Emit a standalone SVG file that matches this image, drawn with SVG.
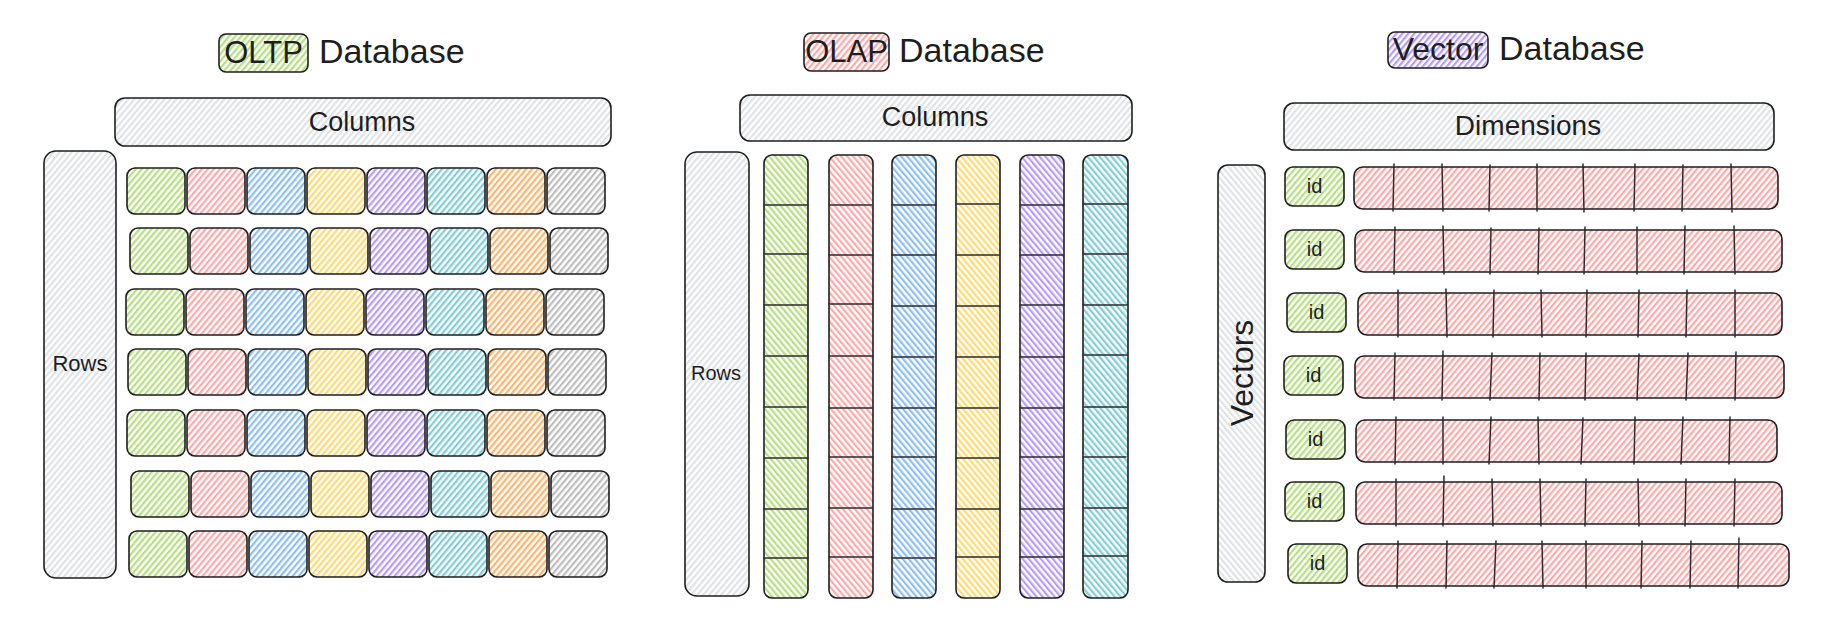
<svg xmlns="http://www.w3.org/2000/svg" width="1848" height="623" viewBox="0 0 1848 623">
<style>
.s{stroke:#1e1e1e;stroke-width:1.6;stroke-linejoin:round}
.ln{stroke:#2b2b2b;stroke-width:1.5;stroke-linecap:round;fill:none}
.t{font-family:"Liberation Sans",Arial,sans-serif;fill:#1e1e1e}
.ti{font-size:34px}
.tb{font-size:31px}
.lb{font-size:27px;text-anchor:middle}
.fg{fill:url(#hg)}.fr{fill:url(#hr)}.fb{fill:url(#hb)}.fy{fill:url(#hy)}
.fp{fill:url(#hp)}.fc{fill:url(#hc)}.fo{fill:url(#ho)}.fx{fill:url(#hx)}.fl{fill:url(#hl)}
.bg{fill:url(#bg)}.br{fill:url(#br)}.bb{fill:url(#bb)}.by{fill:url(#by)}
.bp{fill:url(#bp)}.bc{fill:url(#bc)}.bl{fill:url(#bl)}
</style>
<defs>
<pattern id="hg" width="4.6" height="4.6" patternUnits="userSpaceOnUse" patternTransform="rotate(40)"><rect width="4.6" height="4.6" fill="#fff"/><rect width="2.2" height="4.6" fill="#b5e07f"/></pattern>
<pattern id="hr" width="4.6" height="4.6" patternUnits="userSpaceOnUse" patternTransform="rotate(40)"><rect width="4.6" height="4.6" fill="#fff"/><rect width="2.2" height="4.6" fill="#ffa8a8"/></pattern>
<pattern id="hb" width="4.6" height="4.6" patternUnits="userSpaceOnUse" patternTransform="rotate(40)"><rect width="4.6" height="4.6" fill="#fff"/><rect width="2.2" height="4.6" fill="#8cbff2"/></pattern>
<pattern id="hy" width="4.6" height="4.6" patternUnits="userSpaceOnUse" patternTransform="rotate(40)"><rect width="4.6" height="4.6" fill="#fff"/><rect width="2.2" height="4.6" fill="#ffda70"/></pattern>
<pattern id="hp" width="4.6" height="4.6" patternUnits="userSpaceOnUse" patternTransform="rotate(40)"><rect width="4.6" height="4.6" fill="#fff"/><rect width="2.2" height="4.6" fill="#b69cf7"/></pattern>
<pattern id="hc" width="4.6" height="4.6" patternUnits="userSpaceOnUse" patternTransform="rotate(40)"><rect width="4.6" height="4.6" fill="#fff"/><rect width="2.2" height="4.6" fill="#7fcdd8"/></pattern>
<pattern id="ho" width="4.6" height="4.6" patternUnits="userSpaceOnUse" patternTransform="rotate(40)"><rect width="4.6" height="4.6" fill="#fff"/><rect width="2.2" height="4.6" fill="#ffb36b"/></pattern>
<pattern id="hx" width="4.6" height="4.6" patternUnits="userSpaceOnUse" patternTransform="rotate(40)"><rect width="4.6" height="4.6" fill="#fff"/><rect width="2.2" height="4.6" fill="#bdbdbd"/></pattern>
<pattern id="hl" width="4.6" height="4.6" patternUnits="userSpaceOnUse" patternTransform="rotate(40)"><rect width="4.6" height="4.6" fill="#fff"/><rect width="2.2" height="4.6" fill="#dfe2e6"/></pattern>
<pattern id="bg" width="4.6" height="4.6" patternUnits="userSpaceOnUse" patternTransform="rotate(-40)"><rect width="4.6" height="4.6" fill="#fff"/><rect width="2.2" height="4.6" fill="#b5e07f"/></pattern>
<pattern id="br" width="4.6" height="4.6" patternUnits="userSpaceOnUse" patternTransform="rotate(-40)"><rect width="4.6" height="4.6" fill="#fff"/><rect width="2.2" height="4.6" fill="#ffa8a8"/></pattern>
<pattern id="bb" width="4.6" height="4.6" patternUnits="userSpaceOnUse" patternTransform="rotate(-40)"><rect width="4.6" height="4.6" fill="#fff"/><rect width="2.2" height="4.6" fill="#8cbff2"/></pattern>
<pattern id="by" width="4.6" height="4.6" patternUnits="userSpaceOnUse" patternTransform="rotate(-40)"><rect width="4.6" height="4.6" fill="#fff"/><rect width="2.2" height="4.6" fill="#ffda70"/></pattern>
<pattern id="bp" width="4.6" height="4.6" patternUnits="userSpaceOnUse" patternTransform="rotate(-40)"><rect width="4.6" height="4.6" fill="#fff"/><rect width="2.2" height="4.6" fill="#b69cf7"/></pattern>
<pattern id="bc" width="4.6" height="4.6" patternUnits="userSpaceOnUse" patternTransform="rotate(-40)"><rect width="4.6" height="4.6" fill="#fff"/><rect width="2.2" height="4.6" fill="#7fcdd8"/></pattern>
<pattern id="bl" width="4.6" height="4.6" patternUnits="userSpaceOnUse" patternTransform="rotate(-40)"><rect width="4.6" height="4.6" fill="#fff"/><rect width="2.2" height="4.6" fill="#dfe2e6"/></pattern>
</defs>
<rect width="1848" height="623" fill="#fff"/>

<!-- ===== OLTP ===== -->
<g id="oltp-title">
<rect class="s fg" x="219" y="34" width="89" height="38" rx="7"/>
<text class="t tb" x="263.5" y="63" text-anchor="middle">OLTP</text>
<text class="t ti" x="319" y="63">Database</text>
</g>
<g id="oltp-columns"><rect class="s fl" x="115" y="98" width="496" height="48" rx="10"/><text class="t lb" x="362" y="131">Columns</text></g>
<g id="oltp-rows"><rect class="s fl" x="44" y="151" width="72" height="427" rx="12"/><text class="t" x="80" y="371" font-size="22" text-anchor="middle">Rows</text></g>

<g id="oltp-row-1">
<g id="oltp-r1-c1"><rect class="s fg" x="127" y="168" width="58" height="46" rx="8"/></g>
<g id="oltp-r1-c2"><rect class="s fr" x="187" y="168" width="58" height="46" rx="8"/></g>
<g id="oltp-r1-c3"><rect class="s fb" x="247" y="168" width="58" height="46" rx="8"/></g>
<g id="oltp-r1-c4"><rect class="s fy" x="307" y="168" width="58" height="46" rx="8"/></g>
<g id="oltp-r1-c5"><rect class="s fp" x="367" y="168" width="58" height="46" rx="8"/></g>
<g id="oltp-r1-c6"><rect class="s fc" x="427" y="168" width="58" height="46" rx="8"/></g>
<g id="oltp-r1-c7"><rect class="s fo" x="487" y="168" width="58" height="46" rx="8"/></g>
<g id="oltp-r1-c8"><rect class="s fx" x="547" y="168" width="58" height="46" rx="8"/></g>
</g>
<g id="oltp-row-2">
<g id="oltp-r2-c1"><rect class="s fg" x="130" y="228" width="58" height="46" rx="8"/></g>
<g id="oltp-r2-c2"><rect class="s fr" x="190" y="228" width="58" height="46" rx="8"/></g>
<g id="oltp-r2-c3"><rect class="s fb" x="250" y="228" width="58" height="46" rx="8"/></g>
<g id="oltp-r2-c4"><rect class="s fy" x="310" y="228" width="58" height="46" rx="8"/></g>
<g id="oltp-r2-c5"><rect class="s fp" x="370" y="228" width="58" height="46" rx="8"/></g>
<g id="oltp-r2-c6"><rect class="s fc" x="430" y="228" width="58" height="46" rx="8"/></g>
<g id="oltp-r2-c7"><rect class="s fo" x="490" y="228" width="58" height="46" rx="8"/></g>
<g id="oltp-r2-c8"><rect class="s fx" x="550" y="228" width="58" height="46" rx="8"/></g>
</g>
<g id="oltp-row-3">
<g id="oltp-r3-c1"><rect class="s fg" x="126" y="289" width="58" height="46" rx="8"/></g>
<g id="oltp-r3-c2"><rect class="s fr" x="186" y="289" width="58" height="46" rx="8"/></g>
<g id="oltp-r3-c3"><rect class="s fb" x="246" y="289" width="58" height="46" rx="8"/></g>
<g id="oltp-r3-c4"><rect class="s fy" x="306" y="289" width="58" height="46" rx="8"/></g>
<g id="oltp-r3-c5"><rect class="s fp" x="366" y="289" width="58" height="46" rx="8"/></g>
<g id="oltp-r3-c6"><rect class="s fc" x="426" y="289" width="58" height="46" rx="8"/></g>
<g id="oltp-r3-c7"><rect class="s fo" x="486" y="289" width="58" height="46" rx="8"/></g>
<g id="oltp-r3-c8"><rect class="s fx" x="546" y="289" width="58" height="46" rx="8"/></g>
</g>
<g id="oltp-row-4">
<g id="oltp-r4-c1"><rect class="s fg" x="128" y="349" width="58" height="46" rx="8"/></g>
<g id="oltp-r4-c2"><rect class="s fr" x="188" y="349" width="58" height="46" rx="8"/></g>
<g id="oltp-r4-c3"><rect class="s fb" x="248" y="349" width="58" height="46" rx="8"/></g>
<g id="oltp-r4-c4"><rect class="s fy" x="308" y="349" width="58" height="46" rx="8"/></g>
<g id="oltp-r4-c5"><rect class="s fp" x="368" y="349" width="58" height="46" rx="8"/></g>
<g id="oltp-r4-c6"><rect class="s fc" x="428" y="349" width="58" height="46" rx="8"/></g>
<g id="oltp-r4-c7"><rect class="s fo" x="488" y="349" width="58" height="46" rx="8"/></g>
<g id="oltp-r4-c8"><rect class="s fx" x="548" y="349" width="58" height="46" rx="8"/></g>
</g>
<g id="oltp-row-5">
<g id="oltp-r5-c1"><rect class="s fg" x="127" y="410" width="58" height="46" rx="8"/></g>
<g id="oltp-r5-c2"><rect class="s fr" x="187" y="410" width="58" height="46" rx="8"/></g>
<g id="oltp-r5-c3"><rect class="s fb" x="247" y="410" width="58" height="46" rx="8"/></g>
<g id="oltp-r5-c4"><rect class="s fy" x="307" y="410" width="58" height="46" rx="8"/></g>
<g id="oltp-r5-c5"><rect class="s fp" x="367" y="410" width="58" height="46" rx="8"/></g>
<g id="oltp-r5-c6"><rect class="s fc" x="427" y="410" width="58" height="46" rx="8"/></g>
<g id="oltp-r5-c7"><rect class="s fo" x="487" y="410" width="58" height="46" rx="8"/></g>
<g id="oltp-r5-c8"><rect class="s fx" x="547" y="410" width="58" height="46" rx="8"/></g>
</g>
<g id="oltp-row-6">
<g id="oltp-r6-c1"><rect class="s fg" x="131" y="471" width="58" height="46" rx="8"/></g>
<g id="oltp-r6-c2"><rect class="s fr" x="191" y="471" width="58" height="46" rx="8"/></g>
<g id="oltp-r6-c3"><rect class="s fb" x="251" y="471" width="58" height="46" rx="8"/></g>
<g id="oltp-r6-c4"><rect class="s fy" x="311" y="471" width="58" height="46" rx="8"/></g>
<g id="oltp-r6-c5"><rect class="s fp" x="371" y="471" width="58" height="46" rx="8"/></g>
<g id="oltp-r6-c6"><rect class="s fc" x="431" y="471" width="58" height="46" rx="8"/></g>
<g id="oltp-r6-c7"><rect class="s fo" x="491" y="471" width="58" height="46" rx="8"/></g>
<g id="oltp-r6-c8"><rect class="s fx" x="551" y="471" width="58" height="46" rx="8"/></g>
</g>
<g id="oltp-row-7">
<g id="oltp-r7-c1"><rect class="s fg" x="129" y="531" width="58" height="46" rx="8"/></g>
<g id="oltp-r7-c2"><rect class="s fr" x="189" y="531" width="58" height="46" rx="8"/></g>
<g id="oltp-r7-c3"><rect class="s fb" x="249" y="531" width="58" height="46" rx="8"/></g>
<g id="oltp-r7-c4"><rect class="s fy" x="309" y="531" width="58" height="46" rx="8"/></g>
<g id="oltp-r7-c5"><rect class="s fp" x="369" y="531" width="58" height="46" rx="8"/></g>
<g id="oltp-r7-c6"><rect class="s fc" x="429" y="531" width="58" height="46" rx="8"/></g>
<g id="oltp-r7-c7"><rect class="s fo" x="489" y="531" width="58" height="46" rx="8"/></g>
<g id="oltp-r7-c8"><rect class="s fx" x="549" y="531" width="58" height="46" rx="8"/></g>
</g>

<!-- ===== OLAP ===== -->
<g id="olap-title">
<rect class="s fr" x="804" y="33" width="85" height="38" rx="7"/>
<text class="t tb" x="846.5" y="62" text-anchor="middle">OLAP</text>
<text class="t ti" x="899" y="62">Database</text>
</g>
<g id="olap-columns"><rect class="s fl" x="740" y="95" width="392" height="46" rx="10"/><text class="t lb" x="935" y="126">Columns</text></g>
<g id="olap-rows"><rect class="s fl" x="685" y="152" width="64" height="444" rx="12"/><text class="t" x="716" y="380" font-size="20" text-anchor="middle">Rows</text></g>
<g id="olap-col-1"><rect class="s bg" x="764" y="155" width="44" height="443" rx="8"/><path class="ln" d="M764 205h44M764 254h44M764 305h43M764 356h44M764 407h42M764 458h44M764 509h43M764 558h44"/></g>
<g id="olap-col-2"><rect class="s br" x="829" y="155" width="44" height="443" rx="8"/><path class="ln" d="M829 205h43M829 255h44M829 304h44M829 356h44M829 408h43M829 457h44M829 508h43M829 557h44"/></g>
<g id="olap-col-3"><rect class="s bb" x="892" y="155" width="44" height="443" rx="8"/><path class="ln" d="M892 205h44M892 255h44M892 306h44M892 357h42M892 408h43M892 457h44M892 509h42M892 558h43"/></g>
<g id="olap-col-4"><rect class="s by" x="956" y="155" width="44" height="443" rx="8"/><path class="ln" d="M956 204h43M956 255h43M956 306h44M956 357h44M956 408h42M956 458h43M956 509h44M956 557h44"/></g>
<g id="olap-col-5"><rect class="s bp" x="1020" y="155" width="44" height="443" rx="8"/><path class="ln" d="M1020 205h44M1020 255h43M1020 305h44M1020 357h44M1020 408h44M1020 457h43M1020 509h44M1020 557h43"/></g>
<g id="olap-col-6"><rect class="s bc" x="1083" y="155" width="45" height="443" rx="8"/><path class="ln" d="M1083 204h44M1083 254h44M1083 305h44M1083 355h44M1083 407h44M1083 457h43M1083 508h44M1083 556h44"/></g>

<!-- ===== Vector ===== -->
<g id="vector-title">
<rect class="s fp" x="1388" y="32" width="100" height="36" rx="7"/>
<text class="t" x="1438" y="60" font-size="32" text-anchor="middle">Vector</text>
<text class="t ti" x="1499" y="60">Database</text>
</g>
<g id="vector-dimensions"><rect class="s fl" x="1284" y="103" width="490" height="47" rx="10"/><text class="t" x="1528" y="135" font-size="28" text-anchor="middle">Dimensions</text></g>
<g id="vector-vectors"><rect class="s bl" x="1218" y="165" width="47" height="417" rx="10"/><text class="t" transform="translate(1242 373) rotate(-90)" y="11" font-size="32" text-anchor="middle">Vectors</text></g>

<g id="vector-row-1">
<g id="vec-id-1"><rect class="s fg" x="1285" y="167" width="59" height="39" rx="8"/><text class="t" x="1314.5" y="193" font-size="20" text-anchor="middle">id</text></g>
<g id="vec-bar-1"><rect class="s fr" x="1354" y="167" width="424" height="42" rx="9"/><path class="ln" d="M1394 164l-1 47M1442 164l1 47M1490 165l-1 46M1537 164l0 47M1583 164l1 48M1635 164l-1 47M1683 165l-1 46M1731 164l1 48"/></g>
</g>
<g id="vector-row-2">
<g id="vec-id-2"><rect class="s fg" x="1285" y="230" width="59" height="39" rx="8"/><text class="t" x="1314.5" y="256" font-size="20" text-anchor="middle">id</text></g>
<g id="vec-bar-2"><rect class="s fr" x="1355" y="230" width="427" height="42" rx="9"/><path class="ln" d="M1395 227l-1 47M1443 226l1 48M1491 228l-1 46M1539 228l-1 46M1585 227l-1 47M1637 227l0 47M1685 226l-1 48M1734 226l1 48"/></g>
</g>
<g id="vector-row-3">
<g id="vec-id-3"><rect class="s fg" x="1287" y="293" width="59" height="39" rx="8"/><text class="t" x="1316.5" y="319" font-size="20" text-anchor="middle">id</text></g>
<g id="vec-bar-3"><rect class="s fr" x="1358" y="293" width="424" height="42" rx="9"/><path class="ln" d="M1398 290l0 47M1446 289l1 48M1494 290l-1 47M1541 290l1 47M1587 290l-1 47M1639 290l-1 47M1687 290l-1 47M1735 290l0 47"/></g>
</g>
<g id="vector-row-4">
<g id="vec-id-4"><rect class="s fg" x="1284" y="356" width="59" height="39" rx="8"/><text class="t" x="1313.5" y="382" font-size="20" text-anchor="middle">id</text></g>
<g id="vec-bar-4"><rect class="s fr" x="1355" y="356" width="429" height="42" rx="9"/><path class="ln" d="M1395 353l-1 47M1443 351l-1 49M1492 353l-2 47M1540 353l-1 47M1586 353l-1 47M1639 354l-2 46M1688 353l-2 47M1736 352l-1 48"/></g>
</g>
<g id="vector-row-5">
<g id="vec-id-5"><rect class="s fg" x="1286" y="420" width="59" height="39" rx="8"/><text class="t" x="1315.5" y="446" font-size="20" text-anchor="middle">id</text></g>
<g id="vec-bar-5"><rect class="s fr" x="1356" y="420" width="421" height="42" rx="9"/><path class="ln" d="M1396 417l-1 47M1443 417l0 47M1491 417l-2 47M1538 417l1 47M1583 418l-2 46M1635 417l-1 47M1683 417l-2 47M1730 417l-1 47"/></g>
</g>
<g id="vector-row-6">
<g id="vec-id-6"><rect class="s fg" x="1285" y="482" width="59" height="39" rx="8"/><text class="t" x="1314.5" y="508" font-size="20" text-anchor="middle">id</text></g>
<g id="vec-bar-6"><rect class="s fr" x="1356" y="482" width="426" height="42" rx="9"/><path class="ln" d="M1396 479l0 47M1444 476l-1 50M1492 479l1 47M1540 479l1 47M1586 479l-1 47M1638 479l1 47M1686 479l-1 47M1735 479l-1 47"/></g>
</g>
<g id="vector-row-7">
<g id="vec-id-7"><rect class="s fg" x="1288" y="544" width="59" height="39" rx="8"/><text class="t" x="1317.5" y="570" font-size="20" text-anchor="middle">id</text></g>
<g id="vec-bar-7"><rect class="s fr" x="1358" y="544" width="431" height="42" rx="9"/><path class="ln" d="M1398 541l-1 47M1447 541l-1 47M1496 541l-2 47M1542 541l1 47M1586 541l0 47M1642 541l-1 47M1691 541l-1 47M1739 538l-1 50"/></g>
</g>

<g id="connectors"/>
</svg>
